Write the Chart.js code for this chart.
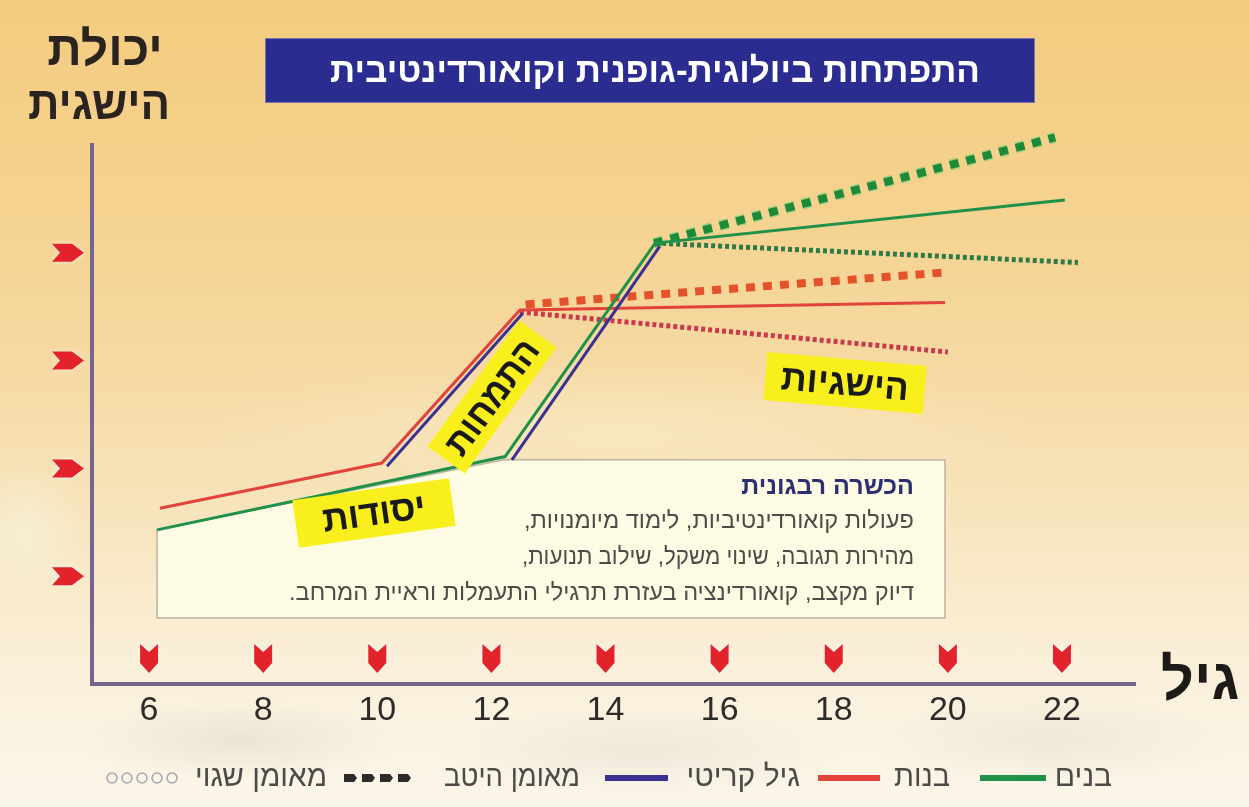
<!DOCTYPE html>
<html lang="he">
<head>
<meta charset="utf-8">
<title>התפתחות ביולוגית-גופנית וקואורדינטיבית</title>
<script src="https://cdn.jsdelivr.net/npm/chart.js@4.4.1/dist/chart.umd.min.js"></script>
<style>
  html, body { margin: 0; padding: 0; }
  body {
    width: 1249px;
    height: 807px;
    overflow: hidden;
    background:
      radial-gradient(ellipse 60px 70px at 25px 530px, rgba(245, 250, 235, 0.45), rgba(255,255,255,0) 100%),
      radial-gradient(ellipse 160px 40px at 240px 740px, rgba(200, 195, 185, 0.3), rgba(255,255,255,0) 100%),
      radial-gradient(ellipse 200px 45px at 640px 750px, rgba(205, 200, 190, 0.25), rgba(255,255,255,0) 100%),
      radial-gradient(ellipse 180px 45px at 1050px 740px, rgba(205, 200, 190, 0.25), rgba(255,255,255,0) 100%),
      radial-gradient(ellipse 420px 70px at 620px 430px, rgba(255, 248, 230, 0.3), rgba(255,255,255,0) 100%),
      linear-gradient(to bottom, #f4cc80 0%, #f5d28e 25%, #f6dba6 48%, #f8e7c4 68%, #faf0db 84%, #fbf6ea 100%);
  }
  #wrap { position: relative; width: 1249px; height: 807px; }
</style>
</head>
<body>
<div id="wrap"><canvas id="chart" width="1249" height="807"></canvas></div>
<script>
// ציר הגיל ושלבי היכולת
const ageTicks = [6, 8, 10, 12, 14, 16, 18, 20, 22];
const levelMarks = [1, 2, 3, 4];

// בנים
const boysAge = [6.14, 12.24, 14.87, 22.05];
const boysLevel = [1.43, 2.11, 4.09, 4.49];
const boysGoodAge = [14.85, 21.88];
const boysGoodLevel = [4.09, 5.07];
const boysPoorAge = [14.87, 22.28];
const boysPoorLevel = [4.09, 3.91];

// בנות
const girlsAge = [6.19, 10.08, 12.5, 19.95];
const girlsLevel = [1.63, 2.05, 3.47, 3.54];
const girlsGoodAge = [12.6, 20.0];
const girlsGoodLevel = [3.52, 3.82];
const girlsPoorAge = [12.5, 20.0];
const girlsPoorLevel = [3.45, 3.08];

// גיל קריטי - שני קטעי העלייה החדה
const criticalGirlsAge = [10.17, 12.55];
const criticalGirlsLevel = [2.02, 3.44];
const criticalBoysAge = [12.36, 14.95];
const criticalBoysLevel = [2.08, 4.06];

const HEB = '"Liberation Sans", "DejaVu Sans", Arial, sans-serif';
const NUM = '"Liberation Sans", Arial, sans-serif';

const GREEN = '#1f9148';
const RED = '#e2433b';
const NAVY = '#3a3192';
const AXIS = '#76668f';

const pts = (xs, ys) => xs.map((x, i) => ({ x: x, y: ys[i] }));

// טקסט בעברית עם דחיסה לרוחב נתון
function heb(ctx, text, x, y, font, color, align, maxW) {
	ctx.save();
	ctx.font = font;
	ctx.fillStyle = color;
	ctx.textAlign = align || 'center';
	ctx.textBaseline = 'middle';
	ctx.direction = 'rtl';
	if (maxW) ctx.fillText(text, x, y, maxW);
	else ctx.fillText(text, x, y);
	ctx.restore();
}

// תווית צהובה מסובבת
function tag(ctx, text, cx, cy, angle, w, h) {
	ctx.save();
	ctx.translate(cx, cy);
	ctx.rotate(angle * Math.PI / 180);
	ctx.fillStyle = '#f8ef1c';
	ctx.fillRect(-w / 2, -h / 2, w, h);
	ctx.font = 'bold 36px ' + HEB;
	ctx.fillStyle = '#1a1a1a';
	ctx.textAlign = 'center';
	ctx.textBaseline = 'middle';
	ctx.direction = 'rtl';
	ctx.fillText(text, 0, 2, w - 22);
	ctx.restore();
}

function arrowDown(ctx, x, yTop) {
	ctx.beginPath();
	ctx.moveTo(x - 9, yTop);
	ctx.lineTo(x, yTop + 8);
	ctx.lineTo(x + 9, yTop);
	ctx.lineTo(x + 9, yTop + 19);
	ctx.lineTo(x, yTop + 29);
	ctx.lineTo(x - 9, yTop + 19);
	ctx.closePath();
	ctx.fill();
}

function arrowRight(ctx, xLeft, y) {
	ctx.beginPath();
	ctx.moveTo(xLeft, y - 9);
	ctx.lineTo(xLeft + 20, y - 9);
	ctx.lineTo(xLeft + 32, y);
	ctx.lineTo(xLeft + 20, y + 9);
	ctx.lineTo(xLeft, y + 9);
	ctx.lineTo(xLeft + 8, y);
	ctx.closePath();
	ctx.fill();
}

const decorations = {
	id: 'decorations',
	beforeDatasetsDraw(chart) {
		const { ctx, scales: { x, y } } = chart;

		// מסגרת "הכשרה רבגונית" - הקצה העליון צמוד לקו הבנים
		ctx.save();
		ctx.beginPath();
		ctx.moveTo(x.getPixelForValue(boysAge[0]), y.getPixelForValue(boysLevel[0]));
		ctx.lineTo(x.getPixelForValue(boysAge[1]), y.getPixelForValue(boysLevel[1]) + 3);
		ctx.lineTo(945, 460);
		ctx.lineTo(945, 618);
		ctx.lineTo(x.getPixelForValue(boysAge[0]), 618);
		ctx.closePath();
		ctx.fillStyle = '#fefbe4';
		ctx.fill();
		ctx.strokeStyle = '#bdb4a2';
		ctx.lineWidth = 1.5;
		ctx.stroke();
		ctx.restore();

		// חיצים אדומים על הצירים
		ctx.save();
		ctx.fillStyle = '#e3232b';
		ctx.shadowColor = 'rgba(255,255,255,0.8)';
		ctx.shadowBlur = 4;
		ageTicks.forEach(a => arrowDown(ctx, x.getPixelForValue(a), 644));
		levelMarks.forEach(l => arrowRight(ctx, 52, y.getPixelForValue(l)));
		ctx.restore();
	},
	afterDatasetsDraw(chart) {
		const { ctx } = chart;

		// כותרת
		ctx.save();
		ctx.fillStyle = '#2b2c8f';
		ctx.fillRect(265, 38, 770, 65);
		ctx.strokeStyle = 'rgba(255,255,255,0.35)';
		ctx.lineWidth = 1;
		ctx.strokeRect(265.5, 38.5, 769, 64);
		ctx.restore();
		heb(ctx, 'התפתחות ביולוגית-גופנית וקואורדינטיבית', 655, 72, 'bold 35px ' + HEB, '#ffffff', 'center', 650);

		// כותרות הצירים
		heb(ctx, 'יכולת', 105, 52, 'bold 48px ' + HEB, '#2a2320', 'center', 122);
		heb(ctx, 'הישגית', 99, 106, 'bold 46px ' + HEB, '#2a2320', 'center', 142);
		heb(ctx, 'גיל', 1200, 683, 'bold 58px ' + HEB, '#1e1a18', 'center', 82);

		// תוכן המסגרת
		heb(ctx, 'הכשרה רבגונית', 914, 487, 'bold 25px ' + HEB, '#2c2f70', 'right', 190);
		heb(ctx, 'פעולות קואורדינטיביות, לימוד מיומנויות,', 914, 521, '24px ' + HEB, '#4f4b48', 'right', 390);
		heb(ctx, 'מהירות תגובה, שינוי משקל, שילוב תנועות,', 914, 557, '24px ' + HEB, '#4f4b48', 'right', 392);
		heb(ctx, 'דיוק מקצב, קואורדינציה בעזרת תרגילי התעמלות וראיית המרחב.', 914, 593, '24px ' + HEB, '#4f4b48', 'right', 625);

		// שלבי ההתפתחות
		tag(ctx, 'יסודות', 374, 513, -8, 158, 48);
		tag(ctx, 'התמחות', 492, 397, -54, 156, 46);
		tag(ctx, 'הישגיות', 845, 383, 5, 160, 48);

		// מקרא
		const ly = 778;
		ctx.save();
		ctx.lineWidth = 6;
		[[GREEN, 980, 1046], [RED, 818, 880], [NAVY, 605, 668]].forEach(([c, a, b]) => {
			ctx.strokeStyle = c;
			ctx.beginPath();
			ctx.moveTo(a, ly);
			ctx.lineTo(b, ly);
			ctx.stroke();
		});
		ctx.fillStyle = '#2d2a28';
		for (let i = 0; i < 4; i++) {
			const cx = 350 + i * 18;
			ctx.beginPath();
			ctx.moveTo(cx - 6, ly - 4);
			ctx.lineTo(cx + 4, ly - 4);
			ctx.lineTo(cx + 7, ly);
			ctx.lineTo(cx + 4, ly + 4);
			ctx.lineTo(cx - 6, ly + 4);
			ctx.closePath();
			ctx.fill();
		}
		ctx.strokeStyle = '#a8a4b2';
		ctx.lineWidth = 1.5;
		for (let i = 0; i < 5; i++) {
			ctx.beginPath();
			ctx.arc(112 + i * 15, ly, 5, 0, Math.PI * 2);
			ctx.stroke();
		}
		ctx.restore();
		const lf = '30px ' + HEB;
		const lc = '#4d4a48';
		heb(ctx, 'בנים', 1112, ly, lf, lc, 'right', 60);
		heb(ctx, 'בנות', 950, ly, lf, lc, 'right', 56);
		heb(ctx, 'גיל קריטי', 800, ly, lf, lc, 'right', 122);
		heb(ctx, 'מאומן היטב', 580, ly, lf, lc, 'right', 136);
		heb(ctx, 'מאומן שגוי', 327, ly, lf, lc, 'right', 132);
	}
};

const lineDs = (data, color, width, dash) => ({
	data: data,
	borderColor: color,
	borderWidth: width,
	borderDash: dash || [],
	borderCapStyle: 'butt',
	borderJoinStyle: 'miter',
	pointRadius: 0,
	fill: false,
	clip: false
});

new Chart(document.getElementById('chart'), {
	type: 'line',
	data: {
		datasets: [
			lineDs(pts(criticalGirlsAge, criticalGirlsLevel), NAVY, 3),
			lineDs(pts(criticalBoysAge, criticalBoysLevel), NAVY, 3),
			lineDs(pts(boysAge, boysLevel), GREEN, 3),
			lineDs(pts(girlsAge, girlsLevel), RED, 3),
			lineDs(pts(boysGoodAge, boysGoodLevel), '#1d8a3a', 8, [9, 8]),
			lineDs(pts(boysGoodAge, boysGoodLevel), 'rgba(110, 205, 120, 0.55)', 11, [9, 8]),
			lineDs(pts(boysPoorAge, boysPoorLevel), '#2f7a47', 5, [4, 3]),
			lineDs(pts(girlsGoodAge, girlsGoodLevel), '#e4522b', 8, [9, 8]),
			lineDs(pts(girlsPoorAge, girlsPoorLevel), '#c83a4e', 5, [4, 3])
		]
	},
	options: {
		responsive: false,
		animation: false,
		events: [],
		layout: { padding: { left: 92, right: 114, top: 145, bottom: 70.2 } },
		plugins: {
			legend: { display: false },
			tooltip: { enabled: false },
			title: { display: false }
		},
		scales: {
			x: {
				type: 'linear',
				min: 5,
				max: 23.28,
				afterBuildTicks: scale => { scale.ticks = ageTicks.map(v => ({ value: v })); },
				grid: { display: false, drawTicks: false },
				border: { display: true, color: AXIS, width: 4 },
				ticks: {
					font: { family: NUM, size: 34 },
					color: '#2e2c2a',
					padding: 6
				}
			},
			y: {
				type: 'linear',
				min: 0,
				max: 5,
				grid: { display: false, drawTicks: false },
				border: { display: true, color: AXIS, width: 4 },
				ticks: { display: false }
			}
		}
	},
	plugins: [decorations]
});
</script>
</body>
</html>
